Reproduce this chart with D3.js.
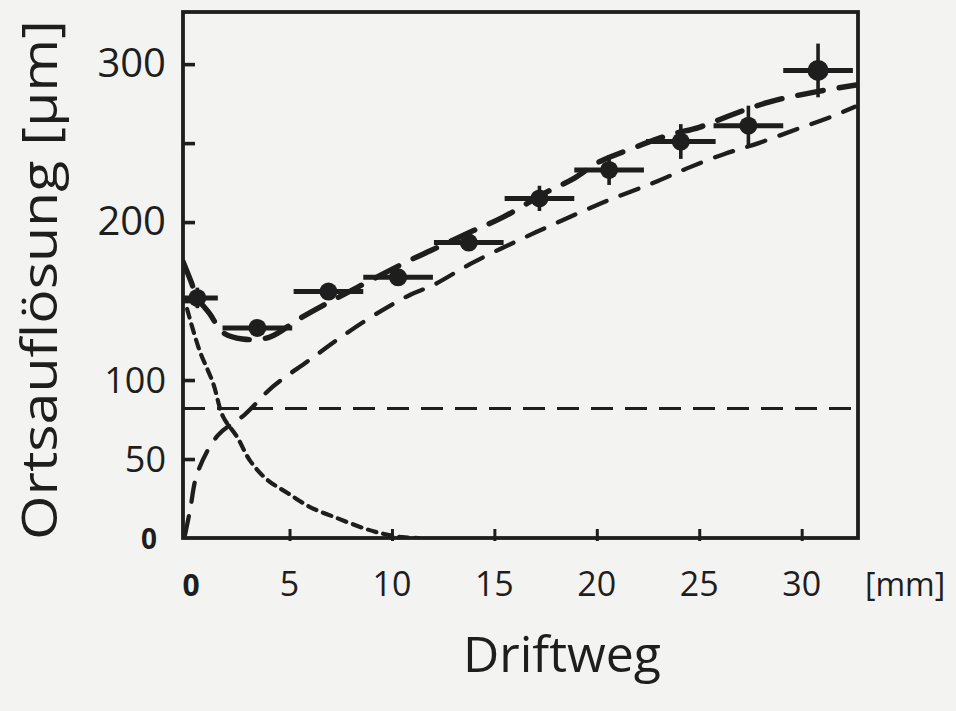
<!DOCTYPE html>
<html>
<head>
<meta charset="utf-8">
<script src="https://cdn.jsdelivr.net/npm/d3@7"></script>
<style>
  html, body { margin: 0; padding: 0; background: #f3f3f1; }
  svg { display: block; }
  text { font-family: "Open Sans", "DejaVu Sans", sans-serif; fill: #1e1e1e; }
</style>
</head>
<body>
<div id="chart"></div>
<script>
// Messpunkte: Driftweg [mm], Ortsauflösung [µm], Fehler
const driftMm = [0.5, 3.43, 6.9, 10.3, 13.75, 17.2, 20.6, 24.1, 27.4, 30.8];
const aufloesung = [152, 133, 156, 165, 187, 215, 233, 251, 261, 296];
const xFehler = [1.0, 1.7, 1.7, 1.7, 1.7, 1.7, 1.7, 1.7, 1.7, 1.7];
const yFehler = [6.5, 4, 4, 4, 4, 8, 9.5, 11, 12.7, 17];

// Gesamtkurve (lange Striche)
const gesamtX = [-0.2, 0.2, 0.5, 1.1, 1.76, 2.7, 4.0, 5.5, 6.6, 8.5, 10.9, 11.9, 13.7, 15.4, 17.7, 18.8, 20.1, 21.4, 23.5, 25.0, 26.6, 28.4, 30.5, 32.75];
const gesamtY = [175, 162, 152, 142, 130, 126, 127, 139, 147, 160, 176, 182, 193, 203, 220, 227, 238, 245, 255, 260, 268, 276, 282, 287];

// Diffusionsanteil (steigend)
const diffX = [-0.1, 0.15, 0.5, 1.5, 2.8, 4.2, 5.9, 7.6, 9.5, 10.9, 12.0, 13.9, 16.1, 18.3, 20.6, 22.8, 24.4, 26.2, 27.9, 29.8, 31.5, 32.6];
const diffY = [2, 18, 41, 65, 78, 96, 112, 128, 144, 154, 160, 174, 188, 201, 214, 225, 234, 243, 250, 259, 267, 273];

// abfallender Anteil (kurze Striche)
const abfallX = [0, 0.6, 1.27, 1.75, 2.44, 3.07, 3.9, 4.9, 6.0, 7.3, 8.6, 9.4, 10.5, 11.3];
const abfallY = [145, 119, 98, 77, 64, 49, 37, 28.5, 19.6, 12.7, 6.3, 3.2, 0.5, 0];

// konstanter Anteil
const konstY = 82;

const xTicks = [0, 5, 10, 15, 20, 25, 30];
const yTicks = [0, 50, 100, 150, 200, 250, 300];
const yLabels = [0, 50, 100, 200, 300];

const W = 956, H = 711;
const pLeft = 183, pRight = 858, pTop = 12, pBottom = 538;
const ink = "#1e1e1e";

const svg = d3.select("#chart").append("svg")
  .attr("width", W).attr("height", H);

const x = d3.scaleLinear().domain([-0.2, 32.75]).range([pLeft, pRight]);
const y = d3.scaleLinear().domain([0, 333]).range([pBottom, pTop]);

svg.append("clipPath").attr("id", "plotClip")
  .append("rect").attr("x", pLeft).attr("y", pTop)
  .attr("width", pRight - pLeft).attr("height", pBottom - pTop);

const plot = svg.append("g").attr("clip-path", "url(#plotClip)");

const line = d3.line()
  .x(d => x(d[0]))
  .y(d => y(d[1]))
  .curve(d3.curveCatmullRom);

function zip(a, b) { return a.map((v, i) => [v, b[i]]); }

// konstante Linie
plot.append("path")
  .attr("d", line([[x.domain()[0], konstY], [x.domain()[1], konstY]]))
  .attr("fill", "none").attr("stroke", ink)
  .attr("stroke-width", 3).attr("stroke-dasharray", "22 12");

// abfallende Kurve
plot.append("path")
  .attr("d", line(zip(abfallX, abfallY)))
  .attr("fill", "none").attr("stroke", ink)
  .attr("stroke-width", 4.2).attr("stroke-dasharray", "9 7")
  .attr("stroke-linecap", "round");

// Diffusionskurve
plot.append("path")
  .attr("d", line(zip(diffX, diffY)))
  .attr("fill", "none").attr("stroke", ink)
  .attr("stroke-width", 4.3).attr("stroke-dasharray", "19 15")
  .attr("stroke-linecap", "round");

// Gesamtkurve
plot.append("path")
  .attr("d", line(zip(gesamtX, gesamtY)))
  .attr("fill", "none").attr("stroke", ink)
  .attr("stroke-width", 5.4).attr("stroke-dasharray", "26 16")
  .attr("stroke-linecap", "round");

// Messpunkte mit Fehlerbalken
const pts = plot.selectAll("g.pt")
  .data(driftMm.map((d, i) => ({ x: d, y: aufloesung[i], ex: xFehler[i], ey: yFehler[i] })))
  .join("g").attr("class", "pt");

pts.append("line")
  .attr("x1", d => x(d.x - d.ex)).attr("x2", d => x(d.x + d.ex))
  .attr("y1", d => y(d.y)).attr("y2", d => y(d.y))
  .attr("stroke", ink).attr("stroke-width", 5);

pts.append("line")
  .attr("x1", d => x(d.x)).attr("x2", d => x(d.x))
  .attr("y1", d => y(d.y - d.ey)).attr("y2", d => y(d.y + d.ey))
  .attr("stroke", ink).attr("stroke-width", 3.6);

pts.append("circle")
  .attr("cx", d => x(d.x)).attr("cy", d => y(d.y))
  .attr("r", (d, i) => i === driftMm.length - 1 ? 10.5 : 9)
  .attr("fill", ink);

// Rahmen
svg.append("rect")
  .attr("x", pLeft).attr("y", pTop)
  .attr("width", pRight - pLeft).attr("height", pBottom - pTop)
  .attr("fill", "none").attr("stroke", ink).attr("stroke-width", 3.8);

// Teilstriche
const xAxis = d3.axisBottom(x).tickValues(xTicks.slice(1)).tickSize(-12).tickFormat("");
svg.append("g").attr("transform", `translate(0,${pBottom + 3})`).call(xAxis)
  .call(g => g.select(".domain").remove())
  .call(g => g.selectAll("line").attr("stroke", ink).attr("stroke-width", 3));

const yAxis = d3.axisLeft(y).tickValues(yTicks.slice(1)).tickSize(-12).tickFormat("");
svg.append("g").attr("transform", `translate(${pLeft},0)`).call(yAxis)
  .call(g => g.select(".domain").remove())
  .call(g => g.selectAll("line").attr("stroke", ink).attr("stroke-width", 3.6));

// Beschriftung x
svg.selectAll("text.xl").data(xTicks).join("text")
  .attr("class", "xl")
  .attr("x", d => x(d) + (d === 0 ? 4 : 0))
  .attr("y", 596)
  .attr("text-anchor", "middle")
  .attr("font-size", d => d === 0 ? 30 : 34)
  .attr("font-weight", d => d === 0 ? 700 : 400)
  .text(d => d);

svg.append("text")
  .attr("x", 905).attr("y", 596)
  .attr("text-anchor", "middle").attr("font-size", 32)
  .text("[mm]");

svg.append("text")
  .attr("x", 562).attr("y", 672)
  .attr("text-anchor", "middle").attr("font-size", 50)
  .text("Driftweg");

// Beschriftung y
svg.selectAll("text.yl").data(yLabels).join("text")
  .attr("class", "yl")
  .attr("x", d => d === 0 ? 157 : 166)
  .attr("y", d => y(d) + (d === 0 ? 11 : 13))
  .attr("text-anchor", "end")
  .attr("font-size", d => d === 0 ? 28 : (d >= 200 ? 40 : 36))
  .attr("font-weight", d => d === 0 ? 700 : 400)
  .text(d => d);

svg.append("text")
  .attr("transform", "translate(57,280) rotate(-90)")
  .attr("text-anchor", "middle")
  .attr("font-size", 50)
  .attr("textLength", 520).attr("lengthAdjust", "spacingAndGlyphs")
  .text("Ortsauflösung [µm]");
</script>
</body>
</html>
